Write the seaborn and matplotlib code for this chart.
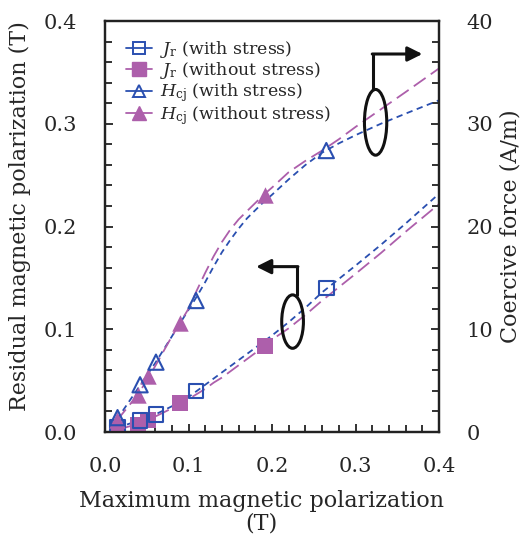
import numpy as np
import matplotlib
matplotlib.use("Agg")
import matplotlib.pyplot as plt
import seaborn as sns
from matplotlib.lines import Line2D
from matplotlib.patches import Ellipse
from matplotlib.ticker import MultipleLocator, FormatStrFormatter

sns.set_theme(style="white")
plt.rcParams["font.family"] = ["DejaVu Serif"]
plt.rcParams["mathtext.fontset"] = "dejavuserif"

blue = "#2a4fb0"
magenta = "#ad5fab"

# measured points
x_with = [0.015, 0.042, 0.061, 0.109, 0.265]
x_without = [0.014, 0.039, 0.052, 0.090, 0.192]
jr_with = [0.005, 0.011, 0.017, 0.040, 0.140]
jr_without = [0.002, 0.007, 0.012, 0.028, 0.084]
hcj_with = [1.4, 4.6, 6.8, 12.8, 27.4]
hcj_without = [1.2, 3.6, 5.5, 10.6, 23.1]

# fitted curves
fit_x = [0.014, 0.04, 0.06, 0.08, 0.10, 0.11, 0.12, 0.13, 0.14, 0.15, 0.16, 0.17,
         0.18, 0.19, 0.20, 0.22, 0.24, 0.26, 0.28, 0.30, 0.33, 0.36, 0.40]
jr_with_fit = [0.004, 0.011, 0.017, 0.025, 0.034, 0.040, 0.046, 0.052, 0.058, 0.064,
               0.070, 0.076, 0.082, 0.088, 0.094, 0.107, 0.121, 0.136, 0.149, 0.162,
               0.182, 0.203, 0.232]
jr_without_fit = [0.002, 0.008, 0.015, 0.023, 0.032, 0.037, 0.042, 0.048, 0.053, 0.059,
                  0.065, 0.071, 0.077, 0.084, 0.090, 0.101, 0.114, 0.128, 0.141, 0.154,
                  0.174, 0.195, 0.222]
hcj_with_fit = [1.2, 4.3, 6.7, 9.3, 11.9, 13.2, 14.6, 16.1, 17.5, 18.7, 19.8, 20.8,
                21.6, 22.4, 23.1, 24.6, 26.0, 27.2, 28.1, 28.9, 30.0, 31.0, 32.3]
hcj_without_fit = [1.1, 3.7, 6.4, 9.3, 12.0, 13.8, 15.5, 17.1, 18.5, 19.7, 20.7, 21.5,
                   22.3, 23.1, 23.8, 25.3, 26.4, 27.4, 28.5, 29.7, 31.4, 33.1, 35.4]

fig = plt.figure(figsize=(5.29, 5.35), dpi=100)
ax = fig.add_axes([0.1985, 0.1925, 0.6315, 0.768])
ax2 = ax.twinx()

short_dash = (0, (3.5, 2.5))
long_dash = (0, (8, 3.5))


def curve(axis, y, color, dash):
    sns.lineplot(x=fit_x, y=y, ax=axis, color=color, lw=1.3, estimator=None, sort=False)
    axis.lines[-1].set_linestyle(dash)


curve(ax, jr_with_fit, blue, short_dash)
curve(ax, jr_without_fit, magenta, long_dash)
curve(ax2, hcj_with_fit, blue, short_dash)
curve(ax2, hcj_without_fit, magenta, long_dash)

sns.scatterplot(x=x_without, y=jr_without, ax=ax, marker="s", s=130, color=magenta,
                edgecolor=magenta, linewidth=0, zorder=3)
sns.scatterplot(x=x_with, y=jr_with, ax=ax, marker="s", s=110, facecolor="none",
                edgecolor=blue, linewidth=1.5, zorder=4)
sns.scatterplot(x=x_without, y=hcj_without, ax=ax2, marker="^", s=140, color=magenta,
                edgecolor=magenta, linewidth=0, zorder=3)
sns.scatterplot(x=x_with, y=hcj_with, ax=ax2, marker="^", s=120, facecolor="none",
                edgecolor=blue, linewidth=1.5, zorder=4)

ax.set_xlim(0, 0.4)
ax.set_ylim(0, 0.4)
ax2.set_ylim(0, 40)

ax.xaxis.set_major_locator(MultipleLocator(0.1))
ax.xaxis.set_minor_locator(MultipleLocator(0.02))
ax.yaxis.set_major_locator(MultipleLocator(0.1))
ax.yaxis.set_minor_locator(MultipleLocator(0.02))
ax2.yaxis.set_major_locator(MultipleLocator(10))
ax2.yaxis.set_minor_locator(MultipleLocator(2))
ax.xaxis.set_major_formatter(FormatStrFormatter("%.1f"))
ax.yaxis.set_major_formatter(FormatStrFormatter("%.1f"))

ax.tick_params(axis="x", which="both", direction="in", bottom=True, top=False,
               labelsize=15, pad=18, color="#222222")
ax.tick_params(axis="y", which="both", direction="in", left=True, right=False,
               labelsize=15, pad=20, color="#222222")
ax.tick_params(which="major", length=6, width=1.3)
ax.tick_params(which="minor", length=5, width=1.3)
ax2.tick_params(axis="y", which="both", direction="in", right=True, labelsize=15,
                pad=20, color="#222222")
ax2.tick_params(which="major", length=6, width=1.3)
ax2.tick_params(which="minor", length=5, width=1.3)

for a in (ax, ax2):
    for sp in a.spines.values():
        sp.set_linewidth(1.6)
        sp.set_color("#222222")
ax2.grid(False)
ax.grid(False)

ax.set_xlabel("Maximum magnetic polarization\n(T)", fontsize=16, linespacing=1.05)
ax.xaxis.set_label_coords(0.467, -0.14, transform=ax.transAxes)
ax.xaxis.label.set_va("top")
ax.set_ylabel("Residual magnetic polarization (T)", fontsize=16)
ax.yaxis.set_label_coords(-0.222, 0.525)
ax2.set_ylabel("Coercive force (A/m)", fontsize=16, labelpad=4)

# annotations: ellipses with arrows
ax.add_patch(Ellipse((0.2246, 0.1075), 0.026, 0.052, fill=False, lw=2.2, color="#111111", zorder=5))
ax.plot([0.2297, 0.2297], [0.133, 0.161], color="#111111", lw=2.2, zorder=5)
ax.annotate("", xy=(0.181, 0.161), xytext=(0.2310, 0.161),
            arrowprops=dict(arrowstyle="-|>", lw=2.2, color="#111111",
                            mutation_scale=22, shrinkA=0, shrinkB=0), zorder=5)
ax2.add_patch(Ellipse((0.324, 30.15), 0.0267, 6.4, fill=False, lw=2.2, color="#111111", zorder=5))
ax2.plot([0.3213, 0.3213], [33.35, 36.8], color="#111111", lw=2.2, zorder=5)
ax2.annotate("", xy=(0.380, 36.8), xytext=(0.3200, 36.8),
             arrowprops=dict(arrowstyle="-|>", lw=2.2, color="#111111",
                             mutation_scale=22, shrinkA=0, shrinkB=0), zorder=5)

handles = [
    Line2D([], [], color=blue, marker="s", mfc="none", mec=blue, ms=8.5, mew=1.4, lw=1.3),
    Line2D([], [], color=magenta, marker="s", mfc=magenta, mec=magenta, ms=9.5, lw=1.3),
    Line2D([], [], color=blue, marker="^", mfc="none", mec=blue, ms=8.5, mew=1.4, lw=1.3),
    Line2D([], [], color=magenta, marker="^", mfc=magenta, mec=magenta, ms=9.5, lw=1.3),
]
labels = [
    r"$J_\mathrm{r}$ (with stress)",
    r"$J_\mathrm{r}$ (without stress)",
    r"$H_\mathrm{cj}$ (with stress)",
    r"$H_\mathrm{cj}$ (without stress)",
]
ax2.legend(handles, labels, loc="upper left", frameon=False, fontsize=12.5,
           handlelength=1.5, handletextpad=0.5, labelspacing=0.0,
           borderaxespad=0.3, bbox_to_anchor=(0.025, 0.985))

fig.savefig("out.png", dpi=100)
